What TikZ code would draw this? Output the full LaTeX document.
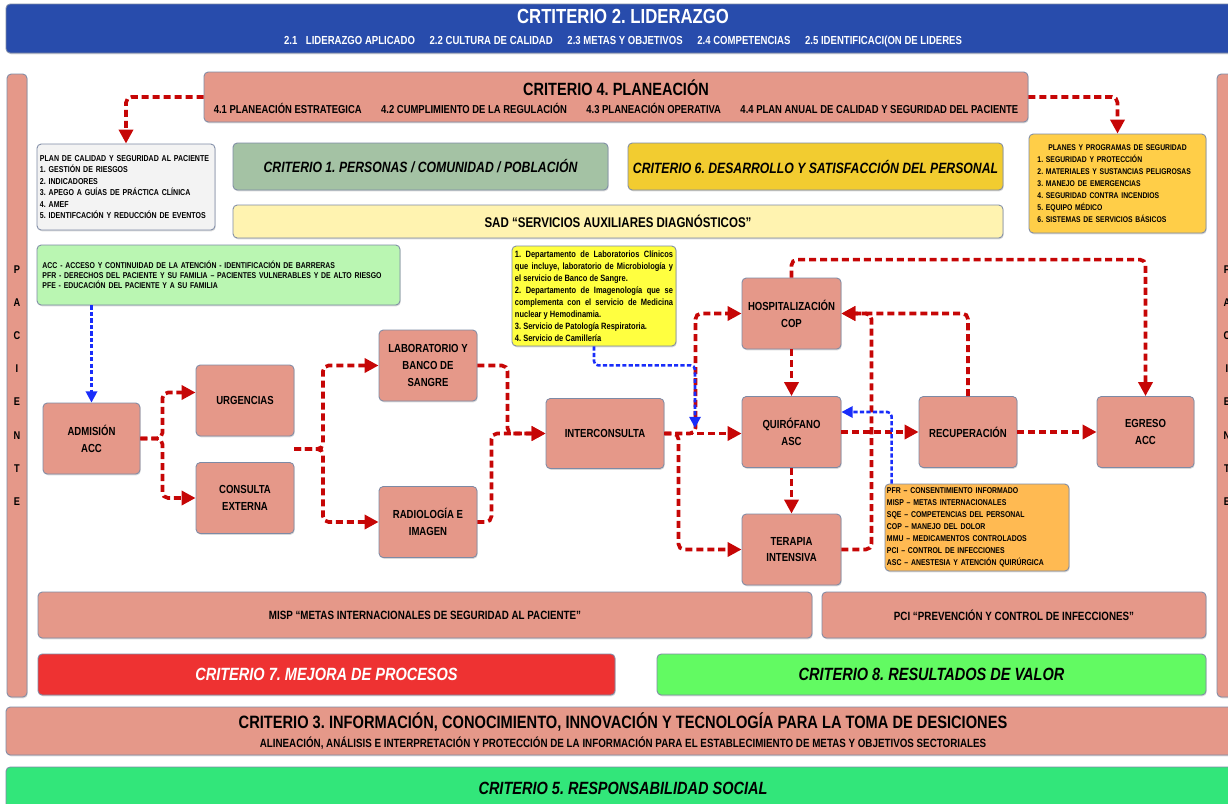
\documentclass[tikz,border=0pt]{standalone}
\usepackage{fontspec}
\setmainfont{Liberation Sans}[FakeStretch=0.82]
\usepackage{tikz}
\usepackage{xcolor}
\usetikzlibrary{arrows.meta,positioning,calc,shadows}
\frenchspacing

\definecolor{salmon}{RGB}{229,152,137}
\definecolor{framegray}{RGB}{125,138,165}
\definecolor{bannerblue}{RGB}{40,76,172}
\definecolor{flowred}{RGB}{198,6,6}
\definecolor{infoblue}{RGB}{25,45,250}
\definecolor{planwhite}{RGB}{243,243,243}
\definecolor{sage}{RGB}{164,194,164}
\definecolor{gold}{RGB}{242,204,48}
\definecolor{sadyellow}{RGB}{255,243,176}
\definecolor{planesgold}{RGB}{255,206,72}
\definecolor{accgreen}{RGB}{186,246,178}
\definecolor{infoyellow}{RGB}{255,255,64}
\definecolor{infoorange}{RGB}{255,186,82}
\definecolor{mejorared}{RGB}{238,50,50}
\definecolor{valorgreen}{RGB}{98,250,98}
\definecolor{socialgreen}{RGB}{50,230,122}

\begin{document}
\begin{tikzpicture}[x=0.025cm,y=-0.025cm,
    sz/.style 2 args={minimum width=#1*0.025cm,minimum height=#2*0.025cm},
    box/.style={draw=framegray,line width=0.6pt,rounded corners=3pt,align=center,inner sep=0pt,
        drop shadow={shadow xshift=0.5pt,shadow yshift=-0.9pt,opacity=0.3}},
    proc/.style={box,fill=salmon,sz={98}{71},font=\fontsize{8.3}{12}\selectfont\bfseries},
    flow/.style={draw=flowred,line width=2.6pt,dash pattern=on 5pt off 2.8pt,rounded corners=4pt,-{Triangle[length=10pt,width=10pt]}},
    info/.style={draw=infoblue,line width=1.8pt,dash pattern=on 3pt off 1.6pt,rounded corners=3pt,-{Triangle[length=8pt,width=8pt]}}]

    \tikzstyle{criterio}=[box,font=\fontsize{12.6}{12}\selectfont\bfseries\itshape]
    \tikzstyle{lista}=[box,align=left,font=\fontsize{6.2}{8.5}\selectfont\bfseries]

    \useasboundingbox (0,0) rectangle (1228,803);

    \node[box,fill=bannerblue,text=white,sz={1234}{49},font=\fontsize{14.5}{14}\selectfont\bfseries] (lid) at (623,28.5)
        {CRTITERIO 2. LIDERAZGO\\[1pt]{\fontsize{8.3}{9}\selectfont 2.1\hspace{0.15cm} LIDERAZGO APLICADO\hspace{0.3cm} 2.2 CULTURA DE CALIDAD\hspace{0.3cm} 2.3 METAS Y OBJETIVOS\hspace{0.3cm} 2.4 COMPETENCIAS\hspace{0.3cm} 2.5 IDENTIFICACI(ON DE LIDERES}};

    \node[box,fill=salmon,sz={20}{623},font=\fontsize{8}{23.6}\selectfont\bfseries] (pacl) at (17,385.5) {P\\A\\C\\I\\E\\N\\T\\E};
    \node[box,fill=salmon,sz={20}{623},font=\fontsize{8}{23.6}\selectfont\bfseries] (pacr) at (1227,385.5) {P\\A\\C\\I\\E\\N\\T\\E};

    \node[box,fill=salmon,sz={824}{50},font=\fontsize{12.6}{12}\selectfont\bfseries] (crit4) at (616,97)
        {CRITERIO 4. PLANEACIÓN\\[1pt]{\fontsize{8.2}{9}\selectfont 4.1 PLANEACIÓN ESTRATEGICA\hspace{0.42cm} 4.2 CUMPLIMIENTO DE LA REGULACIÓN\hspace{0.42cm} 4.3 PLANEACIÓN OPERATIVA\hspace{0.42cm} 4.4 PLAN ANUAL DE CALIDAD Y SEGURIDAD DEL PACIENTE}};

    \node[lista,fill=planwhite,sz={178}{86},text width=4.3cm,font=\fontsize{6.1}{8.1}\selectfont\bfseries] (plan) at (126,187)
        {PLAN DE CALIDAD Y SEGURIDAD AL PACIENTE\\1. GESTIÓN DE RIESGOS\\2. INDICADORES\\3. APEGO A GUÍAS DE PRÁCTICA CLÍNICA\\4. AMEF\\5. IDENTIFCACIÓN Y REDUCCIÓN DE EVENTOS};
    \node[criterio,fill=sage,sz={375}{47},font=\fontsize{10.6}{12}\selectfont\bfseries\itshape] (crit1) at (420.5,166.5) {CRITERIO 1. PERSONAS / COMUNIDAD / POBLACIÓN};
    \node[criterio,fill=gold,sz={375}{47},font=\fontsize{10.6}{12}\selectfont\bfseries\itshape] (crit6) at (815.5,166.5) {CRITERIO 6. DESARROLLO Y SATISFACCIÓN DEL PERSONAL};
    \node[box,fill=sadyellow,sz={770}{33},font=\fontsize{10}{12}\selectfont\bfseries] (sad) at (618,221.5) {SAD “SERVICIOS AUXILIARES DIAGNÓSTICOS”};
    \node[lista,fill=planesgold,sz={177}{99},text width=4cm,font=\fontsize{5.9}{8.5}\selectfont\bfseries] (planes) at (1117.5,183.5)
        {\makebox[4cm]{PLANES Y PROGRAMAS DE SEGURIDAD}\\1. SEGURIDAD Y PROTECCIÓN\\2. MATERIALES Y SUSTANCIAS PELIGROSAS\\3. MANEJO DE EMERGENCIAS\\4. SEGURIDAD CONTRA INCENDIOS\\5. EQUIPO MÉDICO\\6. SISTEMAS DE SERVICIOS BÁSICOS};

    \node[lista,fill=accgreen,sz={363}{60},text width=8.8cm,font=\fontsize{6}{7.2}\selectfont\bfseries] (acc) at (218.5,275)
        {ACC - ACCESO Y CONTINUIDAD DE LA ATENCIÓN - IDENTIFICACIÓN DE BARRERAS\\PFR - DERECHOS DEL PACIENTE Y SU FAMILIA – PACIENTES VULNERABLES Y DE ALTO RIESGO\\PFE - EDUCACIÓN DEL PACIENTE Y A SU FAMILIA};
    \node[lista,fill=infoyellow,sz={164}{100},text width=3.95cm,align=justify,font=\fontsize{6.5}{8.5}\selectfont\bfseries] (sadinfo) at (594,296)
        {1. Departamento de Laboratorios Clínicos\linebreak que incluye, laboratorio de Microbiología y\linebreak el servicio de Banco de Sangre.\\2. Departamento de Imagenología que se\linebreak complementa con el servicio de Medicina\linebreak nuclear y Hemodinamia.\\3. Servicio de Patología Respiratoria.\\4. Servicio de Camillería};

    \node[proc,sz={97}{71}] (adm) at (91.5,438.5) {ADMISIÓN\\ACC};
    \node[proc] (urg) at (245,400.5) {URGENCIAS};
    \node[proc] (cext) at (245,498) {CONSULTA\\EXTERNA};
    \node[proc] (lab) at (428,365.5) {LABORATORIO Y\\BANCO DE\\SANGRE};
    \node[proc] (rad) at (428,522) {RADIOLOGÍA E\\IMAGEN};
    \node[proc,sz={118}{70}] (inter) at (605,433.5) {INTERCONSULTA};
    \node[proc,sz={99}{71}] (hosp) at (791.5,313.5) {HOSPITALIZACIÓN\\COP};
    \node[proc,sz={99}{71}] (quir) at (791.5,432) {QUIRÓFANO\\ASC};
    \node[proc,sz={99}{71}] (ter) at (791.5,549.5) {TERAPIA\\INTENSIVA};
    \node[proc] (recup) at (968,432) {RECUPERACIÓN};
    \node[proc,sz={97}{71}] (egr) at (1145.5,432) {EGRESO\\ACC};

    \node[lista,fill=infoorange,sz={184}{87},text width=4.5cm,font=\fontsize{6}{8.5}\selectfont\bfseries] (ascinfo) at (977,527.5)
        {PFR – CONSENTIMIENTO INFORMADO\\MISP – METAS INTERNACIONALES\\SQE – COMPETENCIAS DEL PERSONAL\\COP – MANEJO DEL DOLOR\\MMU – MEDICAMENTOS CONTROLADOS\\PCI – CONTROL DE INFECCIONES\\ASC – ANESTESIA Y ATENCIÓN QUIRÚRGICA};

    \node[box,fill=salmon,sz={774}{46},font=\fontsize{8.5}{10}\selectfont\bfseries] (misp) at (425,615) {MISP “METAS INTERNACIONALES DE SEGURIDAD AL PACIENTE”};
    \node[box,fill=salmon,sz={384}{46},font=\fontsize{8.5}{10}\selectfont\bfseries] (pci) at (1014,615) {PCI “PREVENCIÓN Y CONTROL DE INFECCIONES”};
    \node[criterio,fill=mejorared,text=white,sz={577}{41}] (crit7) at (326.5,674.5) {CRITERIO 7. MEJORA DE PROCESOS};
    \node[criterio,fill=valorgreen,sz={549}{41}] (crit8) at (931.5,674.5) {CRITERIO 8. RESULTADOS DE VALOR};
    \node[box,fill=salmon,sz={1234}{48},font=\fontsize{12.7}{12.5}\selectfont\bfseries] (crit3) at (623,731)
        {CRITERIO 3. INFORMACIÓN, CONOCIMIENTO, INNOVACIÓN Y TECNOLOGÍA PARA LA TOMA DE DESICIONES\\[1pt]{\fontsize{8.5}{9}\selectfont ALINEACIÓN, ANÁLISIS E INTERPRETACIÓN Y PROTECCIÓN DE LA INFORMACIÓN PARA EL ESTABLECIMIENTO DE METAS Y OBJETIVOS SECTORIALES}};
    \node[criterio,fill=socialgreen,sz={1234}{42}] (crit5) at (623,788) {CRITERIO 5. RESPONSABILIDAD SOCIAL};

    \coordinate (ucx) at (294,449);
    \coordinate (blue1) at (695,428);

    \draw[flow] (crit4.west) -| (plan.north);
    \draw[flow] (crit4.east) -| (planes.north);
    \draw[flow] (adm.east) -- ++(22,0) |- ([yshift=.2cm]urg.west);
    \draw[flow] (adm.east) -- ++(22,0) |- (cext.west);
    \draw[flow] (ucx) -- ++(29,0) |- (lab.west);
    \draw[flow] (ucx) -- ++(29,0) |- (rad.west);
    \draw[flow] (lab.east) -- ++(30,0) |- (inter.west);
    \draw[flow] (rad.east) -- ++(14,0) |- (inter.west);
    \draw[flow] (inter.east) -- (inter.east -| quir.west);
    \draw[flow] (inter.east) -- ++(31,0) |- (hosp.west);
    \draw[flow] (inter.east) -- ++(14,0) |- (ter.west);
    \draw[flow] (hosp.south) -- (quir.north);
    \draw[flow] (quir.south) -- (ter.north);
    \draw[flow] (quir.east) -- (recup.west);
    \draw[flow] (ter.east) -- ++(30,0) |- (hosp.east);
    \draw[flow] (recup.north) |- (hosp.east);
    \draw[flow] (hosp.north) -- ++(0,-18) -| (egr.north);
    \draw[flow] (recup.east) -- (egr.west);

    \draw[info] (acc.south -| adm.north) -- (adm.north);
    \draw[info] (sadinfo.south) -- ++(0,19) -| (blue1);
    \draw[info] ([xshift=.175cm]ascinfo.north west) |- ([yshift=.5cm]quir.east);
\end{tikzpicture}
\end{document}
